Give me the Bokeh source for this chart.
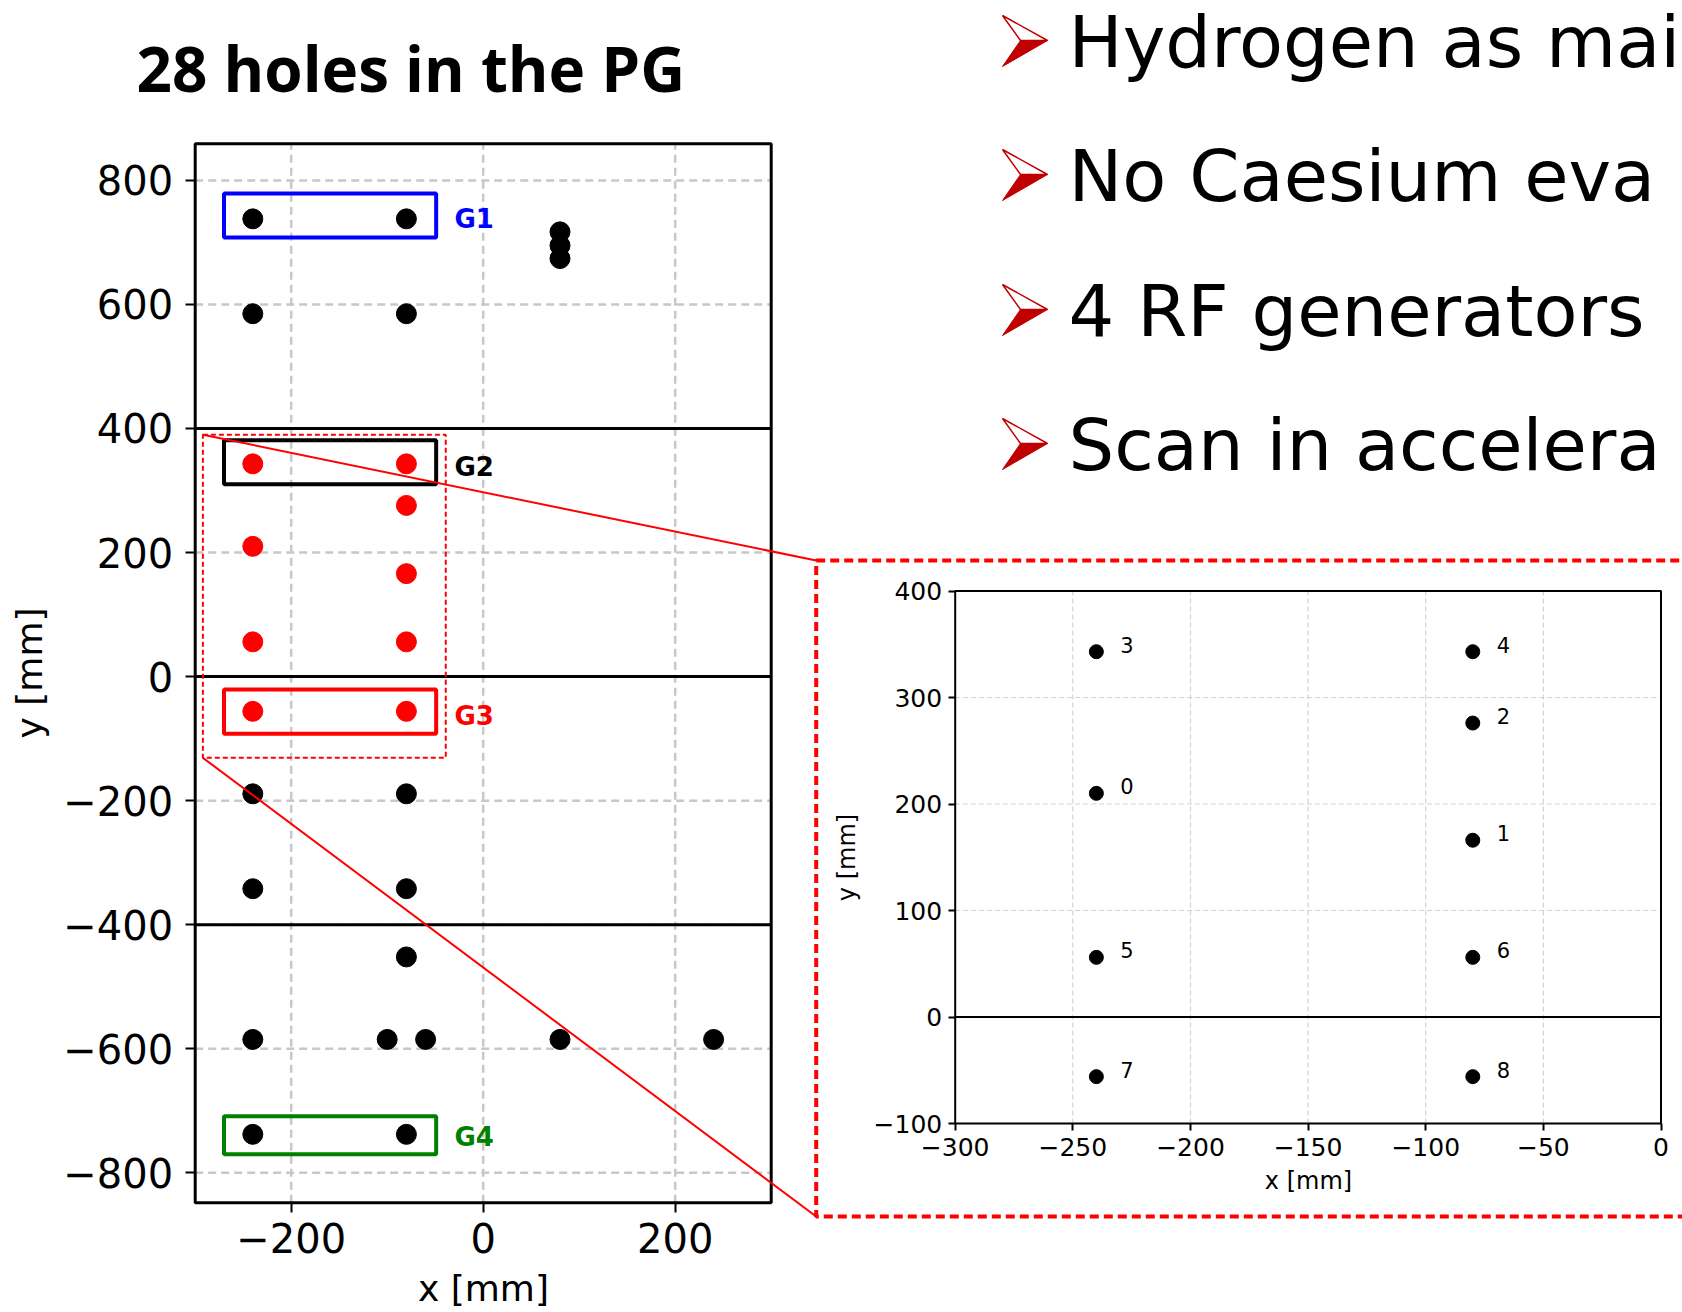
from bokeh.plotting import figure
from bokeh.models import Range1d, LinearAxis, FixedTicker, ColumnDataSource
from bokeh.core.properties import value
from bokeh.embed import file_html
from bokeh.resources import INLINE

# ---------------------------------------------------------------------------
# Hole positions on the plasma grid (mm)
# ---------------------------------------------------------------------------
black_x = [-240, -80, -240, -80, 80, 80, 80,
           -240, -80, -240, -80, -80,
           -240, -100, -60, 80, 240, -240, -80]
black_y = [738, 738, 585, 585, 717, 695, 674,
           -189, -189, -342, -342, -452,
           -585, -585, -585, -585, -585, -738, -738]

# holes inside the zoomed window, with their index
red_x = [-240, -80, -80, -240, -80, -240, -80, -240, -80]
red_y = [343, 343, 276, 210, 166, 56, 56, -56, -56]
red_ids = ["3", "4", "2", "0", "1", "5", "6", "7", "8"]

# horizontal edges between grid sectors (mm)
sector_edges = [400, 0, -400]

# beamlet groups (mm)
groups = ["G1", "G2", "G3", "G4"]
group_x0 = [-270, -270, -270, -270]
group_x1 = [-49, -49, -49, -49]
group_y0 = [708, 310, -92, -770]
group_y1 = [779, 381, -21, -709]
group_label_x = [-30, -30, -30, -30]
group_label_y = [737, 338, -64, -743]
group_colors = ["blue", "black", "red", "green"]

# zoom window drawn on the main panel (mm): left, right, bottom, top
zoom_window = (-292, -39, -131, 390)

# axis ticks
main_xticks = [-200, 0, 200]
main_yticks = [-800, -600, -400, -200, 0, 200, 400, 600, 800]
inset_xticks = [-300, -250, -200, -150, -100, -50, 0]
inset_yticks = [-100, 0, 100, 200, 300, 400]

title_text = "28 holes in the PG"
bullets = ["Hydrogen as mai", "No Caesium eva", "4 RF generators",
           "Scan in accelera"]

# ---------------------------------------------------------------------------
# Page geometry (canvas pixels)
# ---------------------------------------------------------------------------
W, H = 1682, 1312
MAIN_BOX = (194.7, 770.7, 143.3, 1202.3)     # left, right, top, bottom
MAIN_XLIM = (-300.0, 300.0)
MAIN_YLIM = (-848.4, 859.0)
INSET_BOX = (954.7, 1660.5, 590.5, 1123.0)
INSET_XLIM = (-300.0, 0.0)
INSET_YLIM = (-100.0, 400.0)
CALLOUT = (815.7, 1700.0, 560.0, 1216.0)     # left, right, top, bottom
BULLET_X = 1002
TEXT_X = 1068
BASELINES = [67, 201, 336, 470]
BULLET_FONT = 72


def span_range(lo, hi, p_lo, p_hi, total):
    """Range whose [lo, hi] lands on canvas pixels [p_lo, p_hi] from the left/bottom."""
    k = (hi - lo) / (p_hi - p_lo)
    start = lo - p_lo * k
    return Range1d(start=start, end=start + total * k)


mx = span_range(*MAIN_XLIM, MAIN_BOX[0], MAIN_BOX[1], W)
my = span_range(*MAIN_YLIM, H - MAIN_BOX[3], H - MAIN_BOX[2], H)
ix = span_range(*INSET_XLIM, INSET_BOX[0], INSET_BOX[1], W)
iy = span_range(*INSET_YLIM, H - INSET_BOX[3], H - INSET_BOX[2], H)


def to_page(xv, yv, xr, yr):
    px = (xv - xr.start) / (xr.end - xr.start) * W
    py = (yr.end - yv) / (yr.end - yr.start) * H
    return px, py


def minus(t):
    return str(t).replace("-", "\u2212")


p = figure(width=W, height=H, x_range=mx, y_range=my,
           x_axis_location=None, y_axis_location=None,
           toolbar_location=None, output_backend="svg",
           min_border=0, outline_line_color=None,
           background_fill_color="white", border_fill_color="white")
p.extra_x_ranges = {"ix": ix, "px": Range1d(0, W)}
p.extra_y_ranges = {"iy": iy, "py": Range1d(H, 0)}
p.grid.visible = False

# ---------------------------------------------------------------- main panel
GRID = dict(line_color="#c8c8c8", line_width=2.5, line_dash="8 5")
nx, ny = len(main_xticks), len(main_yticks)
p.segment(x0=main_xticks, x1=main_xticks,
          y0=[MAIN_YLIM[0]] * nx, y1=[MAIN_YLIM[1]] * nx, **GRID)
p.segment(x0=[MAIN_XLIM[0]] * ny, x1=[MAIN_XLIM[1]] * ny,
          y0=main_yticks, y1=main_yticks, **GRID)
ns = len(sector_edges)
p.segment(x0=[MAIN_XLIM[0]] * ns, x1=[MAIN_XLIM[1]] * ns,
          y0=sector_edges, y1=sector_edges, line_color="black", line_width=3)
p.quad(left=[MAIN_XLIM[0]], right=[MAIN_XLIM[1]],
       bottom=[MAIN_YLIM[0]], top=[MAIN_YLIM[1]],
       fill_color=None, line_color="black", line_width=3)

gsrc = ColumnDataSource(dict(x0=group_x0, x1=group_x1, y0=group_y0, y1=group_y1,
                             lx=group_label_x, ly=group_label_y,
                             name=groups, color=group_colors))
p.quad(left="x0", right="x1", bottom="y0", top="y1", source=gsrc,
       fill_color=None, line_color="color", line_width=4)
p.text(x="lx", y="ly", text="name", source=gsrc, text_color="color",
       text_font=value("DejaVu Sans"), text_font_style="bold",
       text_font_size="26px", text_baseline="middle", text_align="left")

p.scatter(black_x, black_y, size=20, color="black")
p.scatter(red_x, red_y, size=20, color="red")

zl, zr, zb, zt = zoom_window
p.quad(left=[zl], right=[zr], bottom=[zb], top=[zt], fill_color=None,
       line_color="red", line_width=2, line_dash="5 3")

# -------------------------------------------------------------- inset panel
IGRID = dict(line_color="#d2d2d2", line_width=1.2, line_dash="5 3",
             x_range_name="ix", y_range_name="iy")
inner_x = inset_xticks[1:-1]
inner_y = [t for t in inset_yticks[1:-1] if t != 0]
p.segment(x0=inner_x, x1=inner_x, y0=[INSET_YLIM[0]] * len(inner_x),
          y1=[INSET_YLIM[1]] * len(inner_x), **IGRID)
p.segment(x0=[INSET_XLIM[0]] * len(inner_y), x1=[INSET_XLIM[1]] * len(inner_y),
          y0=inner_y, y1=inner_y, **IGRID)
p.segment(x0=[INSET_XLIM[0]], x1=[INSET_XLIM[1]], y0=[0], y1=[0],
          line_color="black", line_width=2, x_range_name="ix", y_range_name="iy")
p.quad(left=[INSET_XLIM[0]], right=[INSET_XLIM[1]],
       bottom=[INSET_YLIM[0]], top=[INSET_YLIM[1]],
       fill_color=None, line_color="black", line_width=2,
       x_range_name="ix", y_range_name="iy")
p.scatter(red_x, red_y, size=14, color="black",
          x_range_name="ix", y_range_name="iy")
p.text(x=red_x, y=red_y, text=red_ids, x_offset=24, y_offset=-7,
       text_font=value("DejaVu Sans"), text_font_size="21px",
       text_baseline="middle", text_color="black",
       x_range_name="ix", y_range_name="iy")


# -------------------------------------------------------------------- axes
def make_axis(ticks, fixed, bounds, font_px, label, label_px, tick_out,
              standoff, label_standoff, **names):
    ax = LinearAxis(ticker=FixedTicker(ticks=ticks), fixed_location=fixed,
                    bounds=bounds, axis_label=label, **names)
    ax.major_label_overrides = {t: minus(t) for t in ticks}
    ax.major_label_text_font = "DejaVu Sans"
    ax.major_label_text_font_size = f"{font_px}px"
    ax.major_label_text_color = "black"
    ax.axis_label_text_font = "DejaVu Sans"
    ax.axis_label_text_font_size = f"{label_px}px"
    ax.axis_label_text_font_style = "normal"
    ax.axis_label_text_color = "black"
    ax.axis_line_color = None
    ax.major_tick_out = tick_out
    ax.major_tick_in = 0
    ax.major_tick_line_width = 2
    ax.major_tick_line_color = "black"
    ax.minor_tick_line_color = None
    ax.major_label_standoff = standoff
    ax.axis_label_standoff = label_standoff
    return ax


p.add_layout(make_axis(main_xticks, MAIN_YLIM[0], MAIN_XLIM, 40, "x [mm]", 36,
                       10, 10, 12), "below")
p.add_layout(make_axis(main_yticks, MAIN_XLIM[0], MAIN_YLIM, 40, "y [mm]", 36,
                       10, 12, 11), "left")
p.add_layout(make_axis(inset_xticks, INSET_YLIM[0], INSET_XLIM, 25, "x [mm]", 24,
                       7, 7, 8, x_range_name="ix", y_range_name="iy"), "below")
p.add_layout(make_axis(inset_yticks, INSET_XLIM[0], INSET_YLIM, 25, "y [mm]", 24,
                       7, 6, 10, x_range_name="ix", y_range_name="iy"), "left")

# --------------------------------------------------- callout box + connectors
cl, cr, ct, cb = CALLOUT
p.quad(left=[cl], right=[cr], top=[ct], bottom=[cb], fill_color=None,
       line_color="red", line_width=4, line_dash="9 5",
       x_range_name="px", y_range_name="py")
tlx, tly = to_page(zl, zt, mx, my)
blx, bly = to_page(zl, zb, mx, my)
p.segment(x0=[tlx, blx], y0=[tly, bly], x1=[cl, cl], y1=[ct, cb],
          line_color="red", line_width=2, x_range_name="px", y_range_name="py")

# ------------------------------------------------------------ title, bullets
p.text(x=[136], y=[67], text=[title_text], text_font=value("Open Sans"),
       text_font_style="bold", text_font_size="62px", text_color="black",
       text_baseline="middle", x_range_name="px", y_range_name="py")

upper = [(0, -52), (45, -27), (18, -27)]
lower = [(18, -27), (45, -27), (0, -1)]
up_xs = [[BULLET_X + dx for dx, _ in upper] for _ in BASELINES]
up_ys = [[b + dy for _, dy in upper] for b in BASELINES]
lo_xs = [[BULLET_X + dx for dx, _ in lower] for _ in BASELINES]
lo_ys = [[b + dy for _, dy in lower] for b in BASELINES]
p.patches(up_xs, up_ys, fill_color="white", line_color="#C00000", line_width=1.5,
          x_range_name="px", y_range_name="py")
p.patches(lo_xs, lo_ys, fill_color="#C00000", line_color="#C00000", line_width=1,
          x_range_name="px", y_range_name="py")
cap_mid = round(0.365 * BULLET_FONT)
p.text(x=[TEXT_X] * len(bullets), y=[b - cap_mid for b in BASELINES],
       text=bullets, text_font=value("DejaVu Sans"),
       text_font_size=f"{BULLET_FONT}px", text_color="black",
       text_baseline="middle", x_range_name="px", y_range_name="py")

open("out.html", "w").write(file_html(p, INLINE))
